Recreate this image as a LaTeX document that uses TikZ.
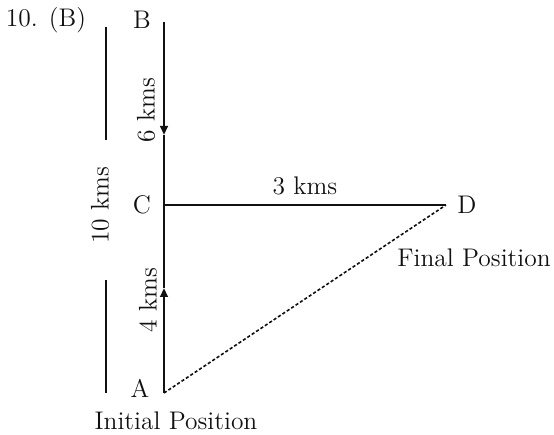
\documentclass[tikz,border=0pt]{standalone}
\usepackage{tikz}
\usetikzlibrary{arrows.meta,positioning}
\definecolor{ink}{HTML}{111111}
\tikzset{
  lbl/.style={font=\fontsize{14.5}{17}\selectfont,ink},
  path/.style={ink,line width=1.3pt},
  dimline/.style={ink,line width=1.5pt},
  midarrow/.style={-{Triangle[length=1.8mm,width=1.5mm]},ink,line width=1.3pt},
  displine/.style={ink,line width=0.9pt,dash pattern=on 1.8pt off 1.2pt},
}
\begin{document}
\begin{tikzpicture}
  \useasboundingbox (0,0) rectangle (11.08,8.70);
  % points of the walk
  \coordinate (B) at (3.28,8.26);
  \coordinate (C) at (3.28,4.60);
  \coordinate (A) at (3.28,0.84);
  \coordinate (D) at (8.92,4.60);
  \coordinate (bcmark) at (3.28,6.00);
  \coordinate (acmark) at (3.28,2.94);
  \node[lbl](qno)at(0.92,8.30){10. (B)};
  \node[lbl](labB)at(2.84,8.30){B};
  \node[lbl](labC)at(2.84,4.60){C};
  \node[lbl](labA)at(2.80,0.94){A};
  \node[lbl](labD)at(9.34,4.60){D};
  % B to C to A, with direction marks
  \draw[midarrow](B)--(bcmark);
  \draw[path](bcmark)--(C);
  \draw[midarrow](A)--(acmark);
  \draw[path](acmark)--(C);
  \draw[path](C)--(D);
  \draw[displine](A)--(D);
  \node[lbl,rotate=90](six)at(2.92,6.50){6 kms};
  \node[lbl,rotate=90](four)at(2.96,2.70){4 kms};
  \node[lbl](three)at(6.10,4.98){3 kms};
  % overall length
  \node[lbl,rotate=90](ten)at(2.00,4.60){10 kms};
  \coordinate (dimtop) at (2.12,8.16);
  \coordinate (dimtopend) at (2.12,5.90);
  \coordinate (dimbot) at (2.12,0.84);
  \coordinate (dimbotend) at (2.12,3.10);
  \draw[dimline](dimtop)--(dimtopend);
  \draw[dimline](dimbot)--(dimbotend);
  \node[lbl](final)at(9.48,3.54){Final Position};
  \node[lbl](initial)at(3.52,0.28){Initial Position};
\end{tikzpicture}
\end{document}
